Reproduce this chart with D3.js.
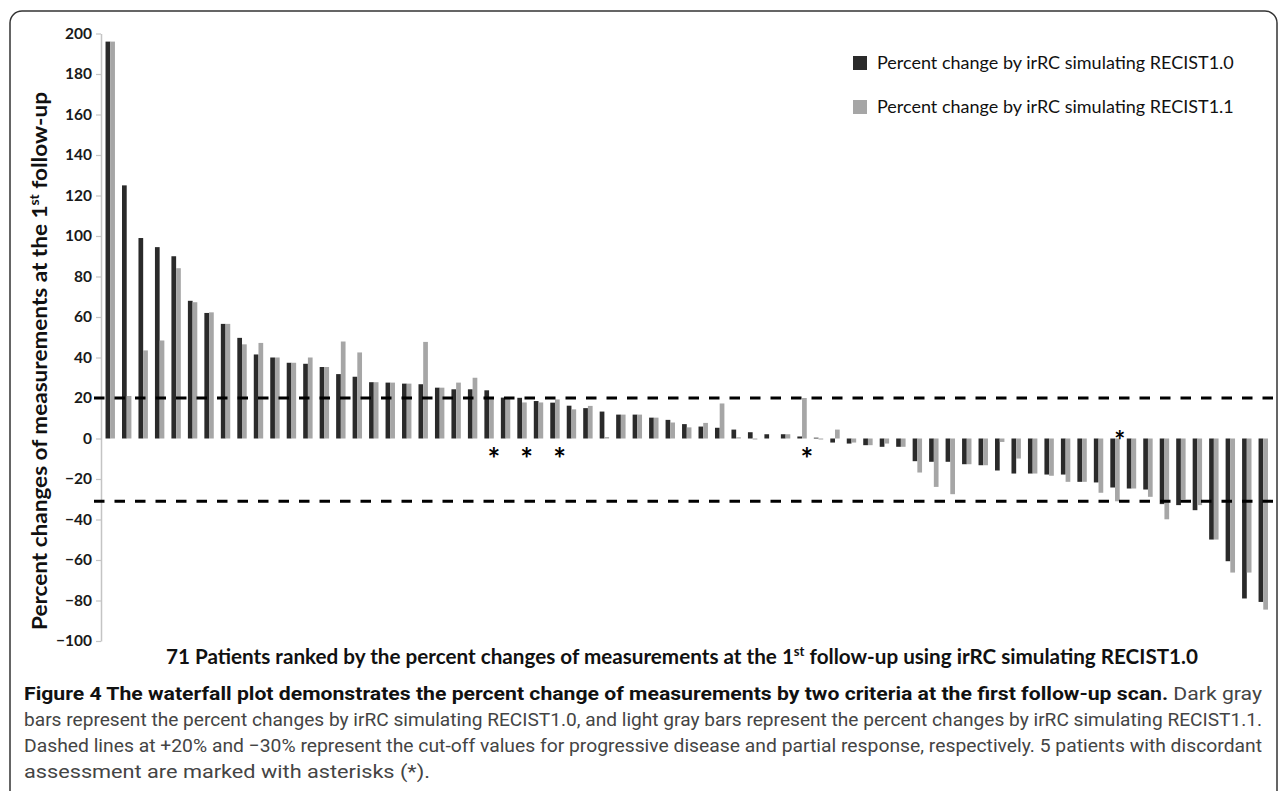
<!DOCTYPE html>
<html><head><meta charset="utf-8">
<script src="https://cdn.jsdelivr.net/npm/d3@7"></script>
<style>html,body{margin:0;padding:0;background:#fff;} svg{display:block;}</style>
</head><body>
<svg id="chart" width="1282" height="791"></svg>
<script>
// ---- data ----
const patients = [1,2,3,4,5,6,7,8,9,10,11,12,13,14,15,16,17,18,19,20,21,22,23,24,25,26,27,28,29,30,31,32,33,34,35,36,37,38,39,40,41,42,43,44,45,46,47,48,49,50,51,52,53,54,55,56,57,58,59,60,61,62,63,64,65,66,67,68,69,70,71];
const recist10 = [196,125,99,94.5,90,68,62,56.6,49.7,41.5,40,37.4,36.9,35.3,31.8,30.5,27.8,27.6,27.1,26.8,25.1,24.3,24.3,23.8,20.2,20.1,18.5,17.7,16.2,15,13.3,11.8,11.8,10.3,9.2,7.1,5.9,5.3,4.4,3.1,2.1,2.1,1.0,0.4,-2,-2.5,-3.3,-4.1,-4.1,-11.2,-11.5,-11.5,-12.7,-13.2,-15.8,-17.3,-17.3,-17.8,-17.8,-21.4,-21.7,-24.2,-24.7,-25.2,-32.4,-32.9,-35.4,-49.9,-60.6,-79,-80.7];
const recist11 = [196,21,43.5,48.4,84.1,67.3,62.3,56.6,46.5,47.2,40,37.4,40,35.3,47.9,42.5,27.8,27.6,27.1,47.7,25.1,27.6,30,19.6,19.8,17.8,17.8,19.3,14.4,16.1,0.7,11.8,11.8,10.3,7.9,5.5,7.7,17.3,0.6,-0.5,0,2.1,20,-0.5,4.4,-2,-3.3,-2.5,-4.1,-16.8,-23.9,-27.5,-12.7,-13.2,-1.7,-9.9,-17.3,-18.4,-21.4,-21.4,-26.8,-31,-24.7,-28.8,-39.9,-30.1,-32.9,-49.9,-66.2,-66.2,-84.5];
const seriesNames = ["Percent change by irRC simulating RECIST1.0", "Percent change by irRC simulating RECIST1.1"];
const seriesColors = ["#2a2a2a", "#a6a6a6"];
const yTicks = [200,180,160,140,120,100,80,60,40,20,0,-20,-40,-60,-80,-100];
const cutoffs = [20, -31];
const discordant = [24, 26, 28, 43, 62];
const yTitle = ["Percent changes of measurements at the 1", "st", " follow-up"];
const xTitle = ["71 Patients ranked by the percent changes of measurements at the 1", "st", " follow-up using irRC simulating RECIST1.0"];
const captionBold = "Figure 4 The waterfall plot demonstrates the percent change of measurements by two criteria at the first follow-up scan.";
const captionLines = [
  " Dark gray",
  "bars represent the percent changes by irRC simulating RECIST1.0, and light gray bars represent the percent changes by irRC simulating RECIST1.1.",
  "Dashed lines at +20% and \u221230% represent the cut-off values for progressive disease and partial response, respectively. 5 patients with discordant",
  "assessment are marked with asterisks (*)."
];

// ---- drawing ----
const svg = d3.select("#chart");
const FONT = "Lato, 'Open Sans', sans-serif";

// frame
svg.append("rect").attr("x", 10).attr("y", 11).attr("width", 1267).attr("height", 820)
  .attr("rx", 12).attr("fill", "none").attr("stroke", "#333").attr("stroke-width", 1.5);

const x = d3.scaleBand().domain(patients).range([102, 1271.5]).padding(0);
const xs = d3.scaleBand().domain([0, 1]).range([0, x.bandwidth()]).paddingInner(0).paddingOuter(0.75);
const y = d3.scaleLinear().domain([-100, 200]).range([641, 33.5]);

// y axis
const yAxis = svg.append("g").attr("transform", "translate(101,0)")
  .call(d3.axisLeft(y).tickValues(yTicks).tickSize(5).tickSizeOuter(0).tickPadding(4));
yAxis.select(".domain").attr("stroke", "#c4c4c4").attr("stroke-width", 1.5);
yAxis.selectAll(".tick line").attr("stroke", "#c4c4c4").attr("stroke-width", 1.2);
yAxis.selectAll(".tick text").attr("font-family", FONT).attr("font-weight", "bold")
  .attr("font-size", 15.5).attr("fill", "#1a1a1a");

// bars
const series = [recist10, recist11];
const groups = svg.append("g").selectAll("g").data(patients).join("g")
  .attr("transform", d => `translate(${x(d)},0)`);
groups.selectAll("rect").data((d, i) => series.map((s, k) => ({k, v: s[i]}))).join("rect")
  .attr("x", d => xs(d.k)).attr("width", xs.bandwidth())
  .attr("y", d => Math.min(y(d.v), y(0)))
  .attr("height", d => Math.abs(y(d.v) - y(0)))
  .attr("fill", d => seriesColors[d.k]);

// cutoff dashed lines
svg.append("g").selectAll("line").data(cutoffs).join("line")
  .attr("x1", 94).attr("x2", 1273)
  .attr("y1", d => y(d)).attr("y2", d => y(d))
  .attr("stroke", "#000").attr("stroke-width", 3).attr("stroke-dasharray", "10.5,10");

// asterisks
const isPos = p => recist10[patients.indexOf(p)] >= 0;
svg.append("g").selectAll("text").data(discordant).join("text")
  .attr("x", p => x(p) + xs(1) + xs.bandwidth())
  .attr("y", p => isPos(p) ? y(0) + 31 : y(0) + 11)
  .attr("text-anchor", "middle").attr("font-family", FONT).attr("font-weight", "bold")
  .attr("font-size", p => isPos(p) ? 30 : 26).attr("fill", "#000")
  .text("*");

// legend
const leg = svg.append("g").selectAll("g").data(seriesNames).join("g")
  .attr("transform", (d, i) => `translate(853,${56 + i * 44})`);
leg.append("rect").attr("width", 14).attr("height", 14).attr("fill", (d, i) => seriesColors[i]);
leg.append("text").attr("x", 24).attr("y", 13).attr("font-family", FONT).attr("font-size", 18)
  .attr("fill", "#111").text(d => d);

// y title
const yt = svg.append("text").attr("transform", "translate(47,361) rotate(-90)")
  .attr("text-anchor", "middle").attr("font-family", FONT).attr("font-weight", "bold")
  .attr("font-size", 21).attr("fill", "#111")
  .attr("textLength", 538).attr("lengthAdjust", "spacingAndGlyphs");
yt.append("tspan").text(yTitle[0]);
yt.append("tspan").attr("font-size", 13).attr("dy", -8).text(yTitle[1]);
yt.append("tspan").attr("dy", 8).text(yTitle[2]);

// x title
const xt = svg.append("text").attr("x", 682).attr("y", 664)
  .attr("text-anchor", "middle").attr("font-family", FONT).attr("font-weight", "bold")
  .attr("font-size", 20.5).attr("fill", "#111")
  .attr("textLength", 1032).attr("lengthAdjust", "spacingAndGlyphs");
xt.append("tspan").text(xTitle[0]);
xt.append("tspan").attr("font-size", 13).attr("dy", -8).text(xTitle[1]);
xt.append("tspan").attr("dy", 8).text(xTitle[2]);

// caption
const CAPF = "'Liberation Sans Narrow', Roboto, 'Noto Sans', sans-serif";
const c1 = svg.append("text").attr("x", 24).attr("y", 700).attr("font-family", CAPF)
  .attr("font-size", 19).attr("textLength", 1238).attr("lengthAdjust", "spacingAndGlyphs");
c1.append("tspan").attr("font-weight", "bold").attr("fill", "#111").text(captionBold);
c1.append("tspan").attr("fill", "#444").text(captionLines[0]);
const capLens = [1238, 1238, 406];
captionLines.slice(1).forEach((t, i) => {
  svg.append("text").attr("x", 24).attr("y", 726 + i * 26).attr("font-family", CAPF)
    .attr("font-size", 19).attr("fill", "#444")
    .attr("textLength", capLens[i]).attr("lengthAdjust", "spacingAndGlyphs").text(t);
});
</script>
</body></html>
